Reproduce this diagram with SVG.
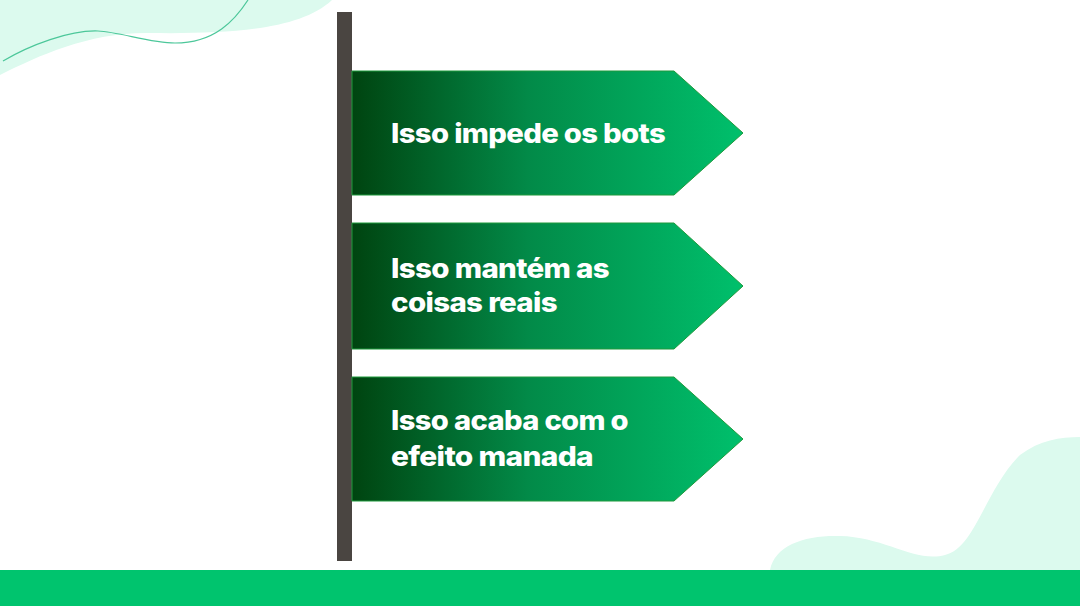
<svg xmlns="http://www.w3.org/2000/svg" width="1080" height="607" viewBox="0 0 1080 607">
<defs>
<linearGradient id="g" x1="0" y1="0" x2="1" y2="0">
<stop offset="0" stop-color="#004410"/>
<stop offset="0.45" stop-color="#028a48"/>
<stop offset="1" stop-color="#00c06c"/>
</linearGradient>
<style>
.sign{fill:url(#g);stroke:#1f9a3c;stroke-width:1}
.t{font-family:"Inter","Lato",sans-serif;font-weight:800;font-size:27px;fill:#ffffff;letter-spacing:-0.6px}
</style>
</defs>
<rect width="1080" height="607" fill="#ffffff"/>
<path d="M0,0 H332 C300,30 230,34 150,33 C90,32 40,55 0,75 Z" fill="#dcfaee"/>
<path d="M3,61 C30,45 70,30 98,31 C120,32 150,43 175,43 C215,43 235,20 248,0" fill="none" stroke="#4cc79a" stroke-width="1.2"/>
<path d="M770,570 C775,545 805,535 840,536 C885,537 915,563 945,555 C975,548 985,490 1020,455 C1040,440 1060,437 1080,437 V570 Z" fill="#dcfaee"/>
<rect x="0" y="570" width="1080" height="36" fill="#00c46e"/>
<g id="pole"><rect x="337" y="12" width="15" height="549" fill="#4a4541"/></g>
<g id="sign1">
<path class="sign" d="M352,71 H674 L743,133 L674,195 H352 Z"/>
<text class="t" x="391" y="143" textLength="274" lengthAdjust="spacingAndGlyphs">Isso impede os bots</text>
</g>
<g id="sign2">
<path class="sign" d="M352,223 H674 L743,286 L674,349 H352 Z"/>
<text class="t" x="391" y="278" textLength="218" lengthAdjust="spacingAndGlyphs">Isso mantém as</text>
<text class="t" x="391" y="312" textLength="166" lengthAdjust="spacingAndGlyphs">coisas reais</text>
</g>
<g id="sign3">
<path class="sign" d="M352,377 H674 L743,439 L674,501 H352 Z"/>
<text class="t" x="391" y="430" textLength="237" lengthAdjust="spacingAndGlyphs">Isso acaba com o</text>
<text class="t" x="391" y="466" textLength="202" lengthAdjust="spacingAndGlyphs">efeito manada</text>
</g>
<g id="connectors"/>
</svg>
